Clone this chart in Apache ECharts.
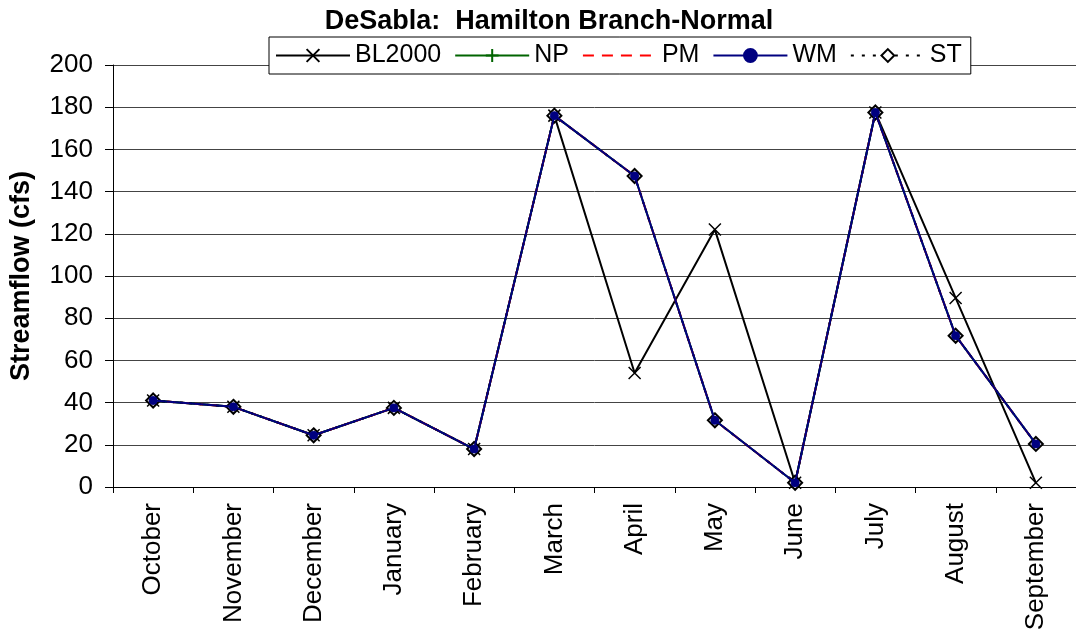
<!DOCTYPE html>
<html><head><meta charset="utf-8">
<script src="https://cdn.jsdelivr.net/npm/echarts@6/dist/echarts.min.js"></script>
<style>html,body{margin:0;padding:0;background:#fff}#c{width:1076px;height:634px}</style>
</head><body><div id="c"></div>
<script>
var categories = ['October','November','December','January','February','March','April','May','June','July','August','September'];
var bl2000 = [41, 38, 24.5, 37.5, 18, 176, 54, 122, 2, 177.5, 89.6, 2];
var np = [41, 38, 24.5, 37.5, 18, 176, 147.4, 31.6, 2, 177.5, 71.7, 20.4];
var pm = [41, 38, 24.5, 37.5, 18, 176, 147.4, 31.6, 2, 177.5, 71.7, 20.4];
var wm = [41, 38, 24.5, 37.5, 18, 176, 147.4, 31.6, 2, 177.5, 71.7, 20.4];
var st = [41, 38, 24.5, 37.5, 18, 176, 147.4, 31.6, 2, 177.5, 71.7, 20.4];
var yTicks = {min:0, max:200, interval:20};

var font = 'Liberation Sans, Arial, sans-serif';
var chart = echarts.init(document.getElementById('c'));
chart.setOption({
  animation:false,
  title:{text:'DeSabla:  Hamilton Branch-Normal', left:544, top:3, textAlign:'center',
    textStyle:{fontFamily:font, fontSize:27, fontWeight:'bold', color:'#000'}},
  legend:{top:37, left:269, itemGap:13, itemWidth:74, itemHeight:16,
    padding:[6,9,6,6], borderColor:'#000', borderWidth:1, backgroundColor:'#fff',
    lineStyle:{width:2},
    textStyle:{fontFamily:font, fontSize:25, color:'#000'},
    data:['BL2000','NP',
      {name:'PM', lineStyle:{type:[11,8], width:2}},
      'WM',
      {name:'ST', lineStyle:{type:[3,8], width:2}}]},
  grid:{left:110, right:0, top:65, bottom:147},
  xAxis:{type:'category', data:categories, boundaryGap:true,
    axisLine:{lineStyle:{color:'#000', width:1}},
    axisTick:{show:true, inside:false, length:6, lineStyle:{color:'#000'}},
    axisLabel:{rotate:90, fontFamily:font, fontSize:26, color:'#000', margin:16, interval:0}},
  yAxis:{type:'value', min:yTicks.min, max:yTicks.max, interval:yTicks.interval,
    name:'Streamflow (cfs)', nameLocation:'middle', nameGap:78, nameRotate:90,
    nameTextStyle:{fontFamily:font, fontSize:27, fontWeight:'bold', color:'#000'},
    axisLine:{show:true, lineStyle:{color:'#000', width:1}},
    axisTick:{show:true, length:8, lineStyle:{color:'#000'}},
    axisLabel:{fontFamily:font, fontSize:26, color:'#000', margin:20},
    splitLine:{show:true, lineStyle:{color:'#444', width:1}}},
  series:[
    {name:'BL2000', type:'line', data:bl2000, z:2,
      symbol:'path://M0,0L10,10M10,0L0,10', symbolSize:12,
      lineStyle:{color:'#000', width:2}, itemStyle:{color:'#000', borderColor:'#000', borderWidth:1.5}},
    {name:'NP', type:'line', data:np, z:3,
      symbol:'path://M5,0L5,10M0,5L10,5', symbolSize:10,
      lineStyle:{color:'#006400', width:2}, itemStyle:{color:'#006400', borderColor:'#006400', borderWidth:1.5}},
    {name:'PM', type:'line', data:pm, z:4, symbol:'circle', symbolSize:1,
      lineStyle:{color:'#ff0000', width:2, type:[8,6]},
      itemStyle:{color:'transparent', borderColor:'transparent', borderWidth:0}},
    {name:'WM', type:'line', data:wm, z:6, symbol:'circle', symbolSize:8,
      lineStyle:{color:'#000080', width:2}, itemStyle:{color:'#000080', borderColor:'#000080', borderWidth:1}},
    {name:'ST', type:'line', data:st, z:5, symbol:'diamond', symbolSize:14,
      lineStyle:{color:'#000', width:2, type:[3,6]}, itemStyle:{color:'#fff', borderColor:'#000', borderWidth:2}}
  ]
});
</script></body></html>
